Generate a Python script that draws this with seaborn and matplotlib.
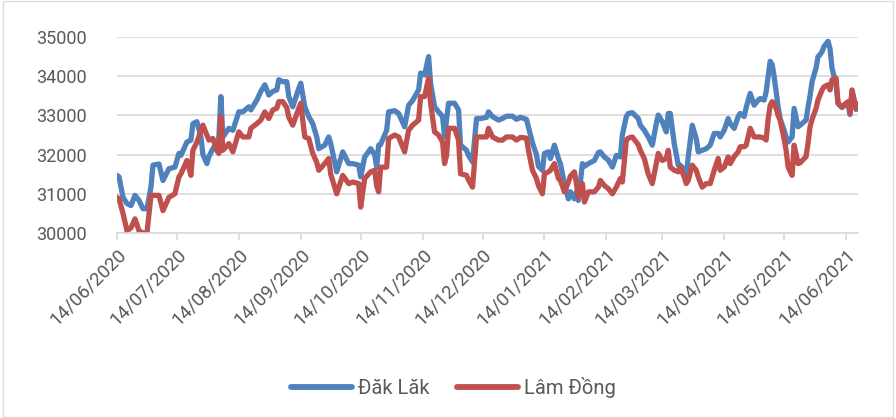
import matplotlib.pyplot as plt
import seaborn as sns
import pandas as pd

# ngày tính từ 14/06/2020
ngay = [0, 1, 3, 5, 7, 9, 11, 13, 15, 17,
        18, 21, 23, 26, 29, 31, 32, 35, 37, 38,
        40, 42, 43, 45, 46, 48, 50, 51, 52, 53,
        56, 58, 61, 63, 66, 67, 70, 72, 74, 76,
        78, 80, 81, 83, 85, 86, 88, 91, 92, 94,
        96, 98, 100, 101, 104, 106, 107, 110, 113, 116,
        118, 121, 122, 124, 127, 129, 130, 131, 132, 135,
        136, 139, 141, 144, 146, 148, 151, 152, 154, 156,
        157, 159, 161, 163, 164, 165, 166, 169, 171, 172,
        175, 176, 178, 180, 182, 185, 186, 188, 191, 193,
        195, 198, 200, 202, 205, 206, 208, 210, 211, 213,
        214, 216, 217, 219, 221, 222, 224, 226, 227, 229,
        230, 231, 233, 234, 236, 239, 241, 242, 244, 246,
        248, 250, 252, 253, 255, 256, 258, 261, 262, 264,
        266, 268, 270, 271, 273, 275, 276, 277, 279, 281,
        282, 284, 285, 286, 288, 290, 291, 293, 295, 297,
        299, 301, 302, 304, 306, 307, 309, 311, 312, 314,
        315, 317, 319, 321, 322, 324, 325, 326, 327, 328,
        329, 330, 331, 332, 334, 335, 336, 338, 339, 341,
        342, 345, 346, 347, 348, 350, 351, 352, 353, 354,
        356, 357, 358, 360, 361, 363, 365, 366, 367, 368,
        370, 371]

dak_lak = [31470, 31430, 30910, 30750, 30700, 30960, 30830, 30620, 30620, 31170,
           31730, 31760, 31340, 31640, 31680, 32030, 31980, 32320, 32370, 32790,
           32840, 32450, 32000, 31770, 31950, 32150, 32300, 32450, 33480, 32450,
           32670, 32620, 33090, 33090, 33220, 33140, 33390, 33610, 33780, 33520,
           33610, 33650, 33910, 33860, 33860, 33480, 33220, 33690, 33820, 33220,
           32970, 32790, 32450, 32150, 32240, 32450, 32280, 31560, 32070, 31770,
           31770, 31730, 31430, 31940, 32150, 32000, 31680, 32240, 32260, 32620,
           33090, 33120, 33050, 32710, 33260, 33380, 33650, 34080, 34030, 34500,
           33820, 33220, 33090, 32970, 32450, 32900, 33310, 33310, 33140, 32240,
           32110, 31980, 31810, 32920, 32920, 32950, 33090, 32970, 32880, 32920,
           32980, 32980, 32900, 32950, 32900, 32700, 32300, 32000, 31700, 31600,
           32030, 32070, 31900, 32240, 31900, 31770, 31260, 30870, 31050, 30870,
           31050, 30830, 31770, 31700, 31770, 31850, 32050, 32070, 31940, 31860,
           31680, 31980, 31940, 32500, 32970, 33050, 33070, 32920, 32750, 32620,
           32450, 32240, 32790, 33010, 32840, 32580, 33050, 33050, 32280, 31730,
           31730, 31600, 31510, 31940, 32750, 32410, 32070, 32110, 32150, 32240,
           32540, 32540, 32450, 32620, 32920, 32790, 32670, 32970, 33050, 32970,
           33200, 33560, 33260, 33390, 33430, 33390, 33600, 33990, 34380, 34300,
           33990, 33600, 33220, 32920, 32620, 32450, 32320, 32450, 33180, 32710,
           32750, 32880, 33220, 33500, 33860, 34210, 34500, 34550, 34630, 34760,
           34890, 34700, 34200, 33800, 33300, 33200, 33300, 33330, 33020, 33600,
           33150, 33300]

lam_dong = [30910, 30870, 30500, 30060, 30130, 30360, 30060, 30000, 30000, 30960,
            30960, 30960, 30570, 30910, 31000, 31430, 31510, 31850, 31470, 32110,
            32320, 32600, 32750, 32500, 32370, 32410, 32100, 32030, 32970, 32110,
            32280, 32070, 32580, 32450, 32450, 32670, 32790, 32880, 33090, 32920,
            33140, 33180, 33350, 33350, 33200, 32950, 32750, 33180, 33310, 32450,
            32410, 32030, 31800, 31600, 31770, 31900, 31500, 31000, 31470, 31260,
            31300, 31260, 30660, 31390, 31560, 31600, 31200, 31050, 31680, 31680,
            32410, 32500, 32450, 32070, 32620, 32750, 32880, 33480, 33480, 33950,
            33310, 32580, 32500, 32320, 31770, 31980, 32670, 32670, 32370, 31510,
            31470, 31350, 31170, 32450, 32450, 32450, 32670, 32450, 32370, 32370,
            32450, 32450, 32370, 32440, 32420, 32110, 31600, 31390, 31210, 31000,
            31510, 31560, 31600, 31770, 31390, 31340, 31050, 31300, 31450, 31560,
            31260, 30910, 31260, 30790, 31050, 31050, 31170, 31340, 31210, 31130,
            31000, 31170, 31390, 31300, 32370, 32420, 32450, 32250, 32110, 31900,
            31500, 31260, 31770, 32030, 31850, 31900, 32110, 31680, 31600, 31560,
            31680, 31430, 31260, 31340, 31730, 31600, 31430, 31170, 31260, 31260,
            31600, 31900, 31600, 31680, 31940, 31770, 31950, 32070, 32200, 32200,
            32240, 32670, 32450, 32450, 32450, 32420, 32370, 32900, 33250, 33350,
            33300, 33180, 33000, 32880, 32400, 32110, 31680, 31470, 32240, 31770,
            31790, 31950, 32300, 32710, 32900, 33180, 33400, 33520, 33650, 33730,
            33780, 33650, 33910, 33950, 33310, 33220, 33310, 33350, 33050, 33650,
            33180, 33260]

nhan_truc_x = ["14/06/2020", "14/07/2020", "14/08/2020", "14/09/2020",
               "14/10/2020", "14/11/2020", "14/12/2020", "14/01/2021",
               "14/02/2021", "14/03/2021", "14/04/2021", "14/05/2021",
               "14/06/2021"]
muc_y = [30000, 31000, 32000, 33000, 34000, 35000]

bat_dau = pd.Timestamp("2020-06-14")
df = pd.DataFrame({
    "Ngày": bat_dau + pd.to_timedelta(ngay, unit="D"),
    "Đăk Lăk": dak_lak,
    "Lâm Đồng": lam_dong,
})
df_long = df.melt(id_vars="Ngày", var_name="Tỉnh", value_name="Giá")

sns.set_theme(style="white")
plt.rcParams["font.family"] = ["Roboto", "DejaVu Sans"]

fig = plt.figure(figsize=(8.96, 4.18), dpi=100)
ax = fig.add_axes([0.1306, 0.4426, 0.827, 0.4689])

sns.lineplot(data=df_long, x="Ngày", y="Giá", hue="Tỉnh",
             palette=["#4F81BD", "#C0504D"], linewidth=3.8,
             solid_capstyle="round", solid_joinstyle="round", ax=ax)

handles, labels = ax.get_legend_handles_labels()
ax.get_legend().remove()

ax.set_ylim(30000, 35000)
ax.set_yticks(muc_y)
ax.set_xlim(bat_dau, bat_dau + pd.Timedelta(days=371))
ticks = pd.to_datetime(nhan_truc_x, format="%d/%m/%Y")
ax.set_xticks(ticks)
ax.set_xticklabels(nhan_truc_x, rotation=45, ha="right", rotation_mode="anchor")

ax.grid(axis="y", color="#d9d9d9", linewidth=1.2)
ax.set_axisbelow(True)
for s in ["left", "right", "top"]:
    ax.spines[s].set_visible(False)
ax.spines["bottom"].set_color("#d9d9d9")
ax.spines["bottom"].set_linewidth(1.2)
ax.tick_params(axis="x", colors="#d9d9d9", length=5, width=1.2, direction="out",
               labelcolor="#595959", labelsize=13.5, pad=4, bottom=True)
ax.tick_params(axis="y", length=0, labelcolor="#595959", labelsize=13, pad=22)
ax.set_xlabel("")
ax.set_ylabel("")

for h in handles:
    h.set_linewidth(4.2)
fig.legend(handles, labels, loc="center", bbox_to_anchor=(0.506, 0.072), ncol=2,
           frameon=False, fontsize=14.5, labelcolor="#595959", handlelength=3.0,
           columnspacing=1.4, handletextpad=0.3)

fig.patches.append(plt.Rectangle((0.003, 0.003), 0.994, 0.994, transform=fig.transFigure,
                                 fill=False, edgecolor="#e3d9d9", linewidth=1))

fig.savefig("out.png", dpi=100)
